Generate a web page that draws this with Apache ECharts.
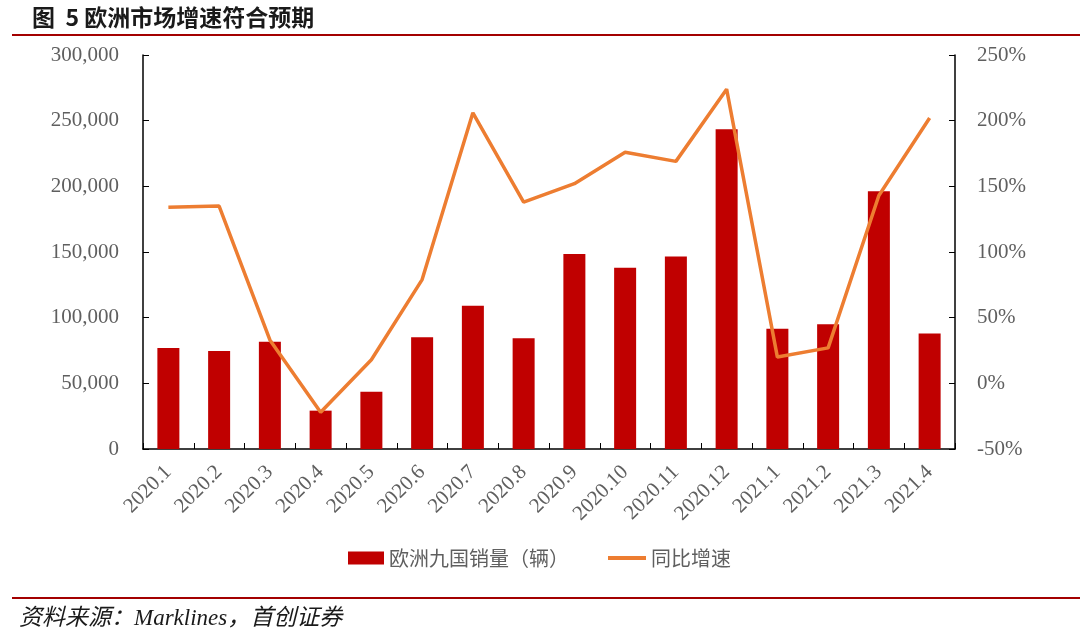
<!DOCTYPE html>
<html>
<head>
<meta charset="utf-8">
<title>欧洲市场增速符合预期</title>
<script src="https://cdn.jsdelivr.net/npm/echarts@6/dist/echarts.min.js"></script>
<style>
  html, body { margin: 0; padding: 0; background: #fff; }
  #chart { width: 1080px; height: 636px; }
</style>
</head>
<body>
<div id="chart"></div>
<script>
  var months = ['2020.1', '2020.2', '2020.3', '2020.4', '2020.5', '2020.6', '2020.7', '2020.8',
    '2020.9', '2020.10', '2020.11', '2020.12', '2021.1', '2021.2', '2021.3', '2021.4'];
  // 欧洲九国销量（辆）
  var sales = [76900, 74600, 81700, 29200, 43600, 85000, 109000, 84300,
    148500, 138000, 146500, 243500, 91600, 95000, 196300, 88000];
  // 同比增速 (%)
  var growth = [134, 135, 33, -22, 18, 79, 206, 138,
    152, 176, 169, 224, 20, 27, 143, 202];

  var serif = '"Liberation Serif", "Times New Roman", "Noto Sans CJK SC", serif';
  var cjk = '"Noto Sans CJK SC", sans-serif';
  var gray = '#5f5f5f';

  var chart = echarts.init(document.getElementById('chart'));
  chart.setOption({
    animation: false,
    title: [{
      text: '图  5 欧洲市场增速符合预期',
      left: 27,
      top: 1,
      textStyle: {
        fontFamily: cjk,
        fontSize: 23,
        fontWeight: 'bold',
        color: '#1a1a1a'
      }
    }, {
      text: '资料来源：Marklines，首创证券',
      left: 14,
      top: 602,
      textStyle: {
        fontFamily: serif,
        fontSize: 23,
        fontStyle: 'italic',
        fontWeight: 'normal',
        color: '#1a1a1a'
      }
    }],
    graphic: [{
      type: 'line',
      shape: { x1: 12, y1: 35, x2: 1080, y2: 35 },
      style: { stroke: '#a30000', lineWidth: 2 }
    }, {
      type: 'line',
      shape: { x1: 12, y1: 598, x2: 1080, y2: 598 },
      style: { stroke: '#a30000', lineWidth: 2 }
    }],
    legend: [{
      top: 543,
      left: 343,
      itemWidth: 36,
      itemHeight: 13,
      icon: 'rect',
      textStyle: { fontFamily: cjk, fontSize: 20, color: gray },
      data: ['欧洲九国销量（辆）']
    }, {
      top: 543,
      left: 603,
      itemWidth: 38,
      itemHeight: 4,
      icon: 'rect',
      textStyle: { fontFamily: cjk, fontSize: 20, color: gray },
      data: ['同比增速']
    }],
    grid: {
      left: 143,
      right: 125,
      top: 55,
      bottom: 187
    },
    xAxis: {
      type: 'category',
      data: months,
      axisLine: { lineStyle: { color: '#000', width: 1.5 } },
      axisTick: { show: true, inside: true, length: 6, lineStyle: { color: '#000' } },
      axisLabel: {
        interval: 0,
        rotate: 45,
        margin: 20,
        fontFamily: serif,
        fontSize: 21,
        color: gray
      }
    },
    yAxis: [{
      type: 'value',
      min: 0,
      max: 300000,
      interval: 50000,
      splitLine: { show: false },
      axisLine: { show: true, lineStyle: { color: '#000', width: 1.5 } },
      axisTick: { show: true, inside: true, length: 6, lineStyle: { color: '#000' } },
      axisLabel: {
        margin: 24,
        fontFamily: serif,
        fontSize: 21,
        color: gray,
        formatter: function (v) { return v.toLocaleString('en-US'); }
      }
    }, {
      type: 'value',
      min: -50,
      max: 250,
      interval: 50,
      splitLine: { show: false },
      axisLine: { show: true, lineStyle: { color: '#000', width: 1.5 } },
      axisTick: { show: true, inside: true, length: 6, lineStyle: { color: '#000' } },
      axisLabel: {
        margin: 22,
        fontFamily: serif,
        fontSize: 21,
        color: gray,
        formatter: '{value}%'
      }
    }],
    series: [{
      name: '欧洲九国销量（辆）',
      type: 'bar',
      data: sales,
      barWidth: 22,
      itemStyle: { color: '#c00000' }
    }, {
      name: '同比增速',
      type: 'line',
      yAxisIndex: 1,
      data: growth,
      symbol: 'none',
      lineStyle: { color: '#ed7d31', width: 3.5 },
      itemStyle: { color: '#ed7d31' }
    }]
  });
</script>
</body>
</html>
